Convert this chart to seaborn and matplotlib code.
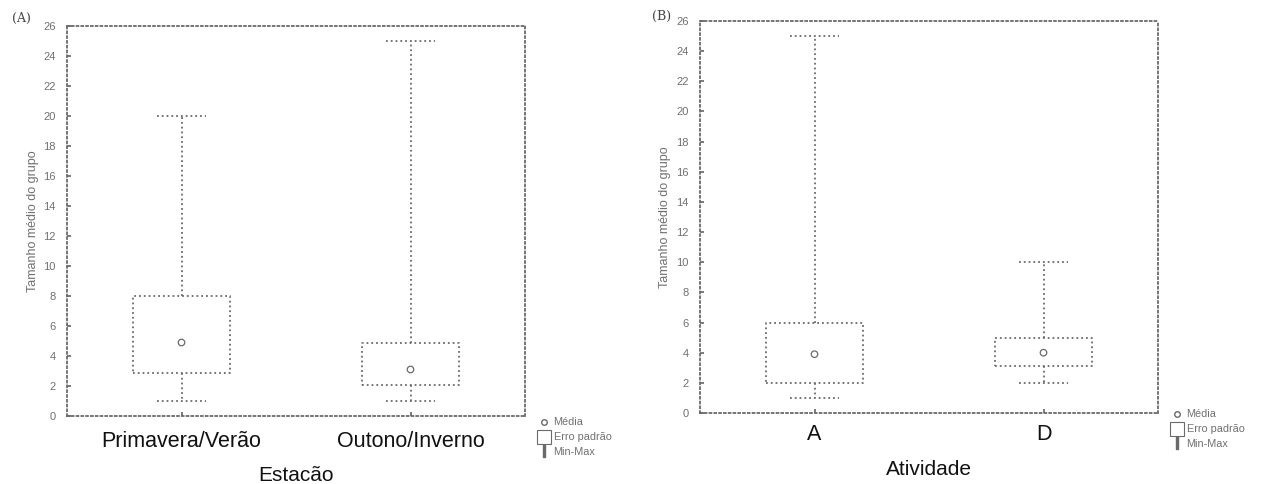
import numpy as np
import pandas as pd
import matplotlib
matplotlib.use("Agg")
import matplotlib.pyplot as plt
from matplotlib.lines import Line2D
import seaborn as sns

# Panel A: season
season_groups = ["Primavera/Verão", "Outono/Inverno"]
season_mean = [4.9, 3.1]
season_se_low = [2.9, 2.1]
season_se_high = [8.0, 4.9]
season_min = [1.0, 1.0]
season_max = [20.0, 25.0]

# Panel B: activity
activity_groups = ["A", "D"]
activity_mean = [3.9, 4.0]
activity_se_low = [2.0, 3.1]
activity_se_high = [6.0, 5.0]
activity_min = [1.0, 2.0]
activity_max = [25.0, 10.0]

y_ticks = list(range(0, 27, 2))

sns.set_theme(style="white")
plt.rcParams["font.family"] = ["Liberation Sans", "DejaVu Sans"]

LINE = "#6a6a6a"
TEXT_GRAY = "#707070"


def stats_frame(groups, lo, mid, hi, mn, mx):
    """Five values per group so the quartiles fall on the box / whisker ends."""
    rows = []
    for g, a, b, c, d, e in zip(groups, mn, lo, mid, hi, mx):
        for v in (a, b, c, d, e):
            rows.append({"group": g, "value": v})
    return pd.DataFrame(rows)


def draw_panel(ax, groups, mean, lo, hi, mn, mx, xlabel, tick_pad, label_pad, ylabel_pad):
    df = stats_frame(groups, lo, mean, hi, mn, mx)
    line_kw = dict(color=LINE, linestyle=":", linewidth=1.3)
    sns.boxplot(
        data=df, x="group", y="value", order=groups, ax=ax,
        whis=(0, 100), width=0.42, fill=False, linecolor=LINE,
        boxprops=line_kw, whiskerprops=line_kw, capprops=line_kw,
        medianprops={"visible": False}, showfliers=False,
    )
    sns.scatterplot(
        x=groups, y=mean, ax=ax, marker="o", s=22,
        facecolor="none", edgecolor=LINE, linewidth=0.9, zorder=5,
    )
    ax.set_xlim(-0.5, 1.5)
    ax.set_ylim(0, 26)
    ax.set_yticks(y_ticks)
    ax.set_yticklabels([str(t) for t in y_ticks])
    ax.tick_params(axis="y", direction="in", length=3, labelsize=8,
                   labelcolor=TEXT_GRAY, color=LINE, pad=8, left=True)
    ax.tick_params(axis="x", direction="in", length=3, labelsize=15.5,
                   labelcolor="#111111", color=LINE, pad=tick_pad, bottom=True)
    for sp in ax.spines.values():
        sp.set_visible(True)
        sp.set_color(LINE)
        sp.set_linestyle(":")
        sp.set_linewidth(1.3)
    ax.set_xlabel(xlabel, fontsize=15, color="#111111", labelpad=label_pad)
    ax.set_ylabel("Tamanho médio do grupo", fontsize=9, color=TEXT_GRAY,
                  labelpad=ylabel_pad)


def add_legend(fig, x, y):
    handles = [
        Line2D([], [], linestyle="none", marker="o", markersize=4,
               markerfacecolor="none", markeredgecolor=LINE),
        Line2D([], [], linestyle="none", marker="s", markersize=10,
               markerfacecolor="none", markeredgecolor=LINE, markeredgewidth=0.8),
        Line2D([], [], linestyle="none", marker="$\\mathrm{I}$", markersize=8,
               color=LINE),
    ]
    fig.legend(handles, ["Média", "Erro padrão", "Min-Max"],
               loc="upper left", bbox_to_anchor=(x, y), frameon=False,
               fontsize=7.8, labelcolor=TEXT_GRAY, handlelength=1.0,
               handletextpad=0.4, labelspacing=0.45, borderpad=0)


fig = plt.figure(figsize=(12.62, 4.84), dpi=100)
ax_a = fig.add_axes([67 / 1262, 1 - 416 / 484, 458 / 1262, 390 / 484])
ax_b = fig.add_axes([700 / 1262, 1 - 413 / 484, 458 / 1262, 392 / 484])

draw_panel(ax_a, season_groups, season_mean, season_se_low, season_se_high,
           season_min, season_max, "Estacão", tick_pad=11, label_pad=10, ylabel_pad=3)
draw_panel(ax_b, activity_groups, activity_mean, activity_se_low, activity_se_high,
           activity_min, activity_max, "Atividade", tick_pad=8, label_pad=11, ylabel_pad=4)

add_legend(fig, 533 / 1262, 1 - 412 / 484)
add_legend(fig, 1166 / 1262, 1 - 404 / 484)

fig.text(12 / 1262, 1 - 18 / 484, "(A)", fontsize=9, color="#444444",
         family="DejaVu Serif", va="center")
fig.text(652 / 1262, 1 - 16 / 484, "(B)", fontsize=9, color="#444444",
         family="DejaVu Serif", va="center")

fig.savefig("out.png", dpi=100, facecolor="white")
